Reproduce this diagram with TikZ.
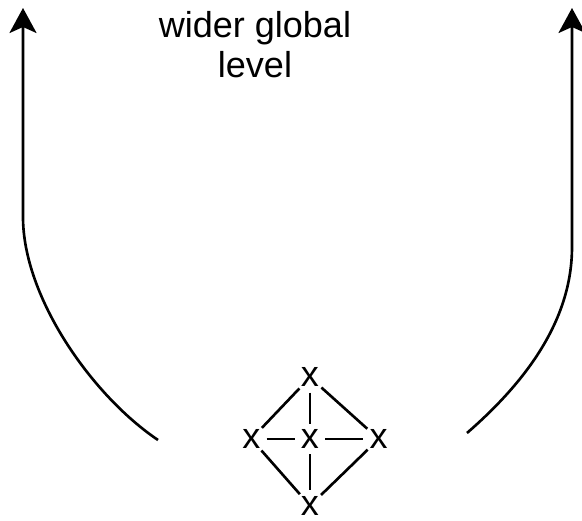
\documentclass[tikz,border=0pt]{standalone}
\usepackage{fontspec}
\setmainfont{Liberation Sans}
\usetikzlibrary{arrows.meta,positioning}
\tikzset{
    % Elements
    element/.style={
        circle,
        inner sep=0pt,
        minimum size=0.6cm,
        font=\fontsize{20.5}{24}\selectfont
    },
    % Links
    link/.style={
        line width=1.5pt,
        draw=black
    },
    % Arrows
    bigarrow/.style={
        -{Stealth[length=0.5cm,width=0.54cm,inset=0.12cm]},
        line width=1.5pt,
        draw=black
    },
    % Labels
    levellabel/.style={
        align=center,
        inner sep=0pt,
        font=\fontsize{20.5}{22.8}\selectfont
    }
}

\begin{document}
\begin{tikzpicture}[x=0.02cm, y=0.02cm]
    \useasboundingbox (0,0) rectangle (582,521);

    % Title
    \node[levellabel] (global) at (255,476) {wider global\\level};

    % Elements
    \node[element] (mid) at (310,82) {x};
    \node[element, above=0.62cm of mid] (top) {x};
    \node[element, left=0.56cm of mid] (west) {x};
    \node[element, right=0.76cm of mid] (east) {x};
    \node[element, below=0.72cm of mid] (bottom) {x};

    % Links
    \draw[link] (top) -- (mid);
    \draw[link] (west) -- (mid);
    \draw[link] (mid) -- (east);
    \draw[link] (mid) -- (bottom);
    \draw[link] (top) -- (west);
    \draw[link] (top) -- (east);
    \draw[link] (west) -- (bottom);
    \draw[link] (east) -- (bottom);

    % Arrows
    \coordinate (lfoot) at (158,81);
    \coordinate (lbend) at (23,304);
    \coordinate (ltip) at (23,513);
    \coordinate (rfoot) at (467,88);
    \coordinate (rbend) at (572,274);
    \coordinate (rtip) at (572,513);
    \draw[bigarrow] (lfoot) .. controls +(146:80) and +(0,-80) .. (lbend) -- (ltip);
    \draw[bigarrow] (rfoot) .. controls +(41:75) and +(0,-75) .. (rbend) -- (rtip);

\end{tikzpicture}
\end{document}
